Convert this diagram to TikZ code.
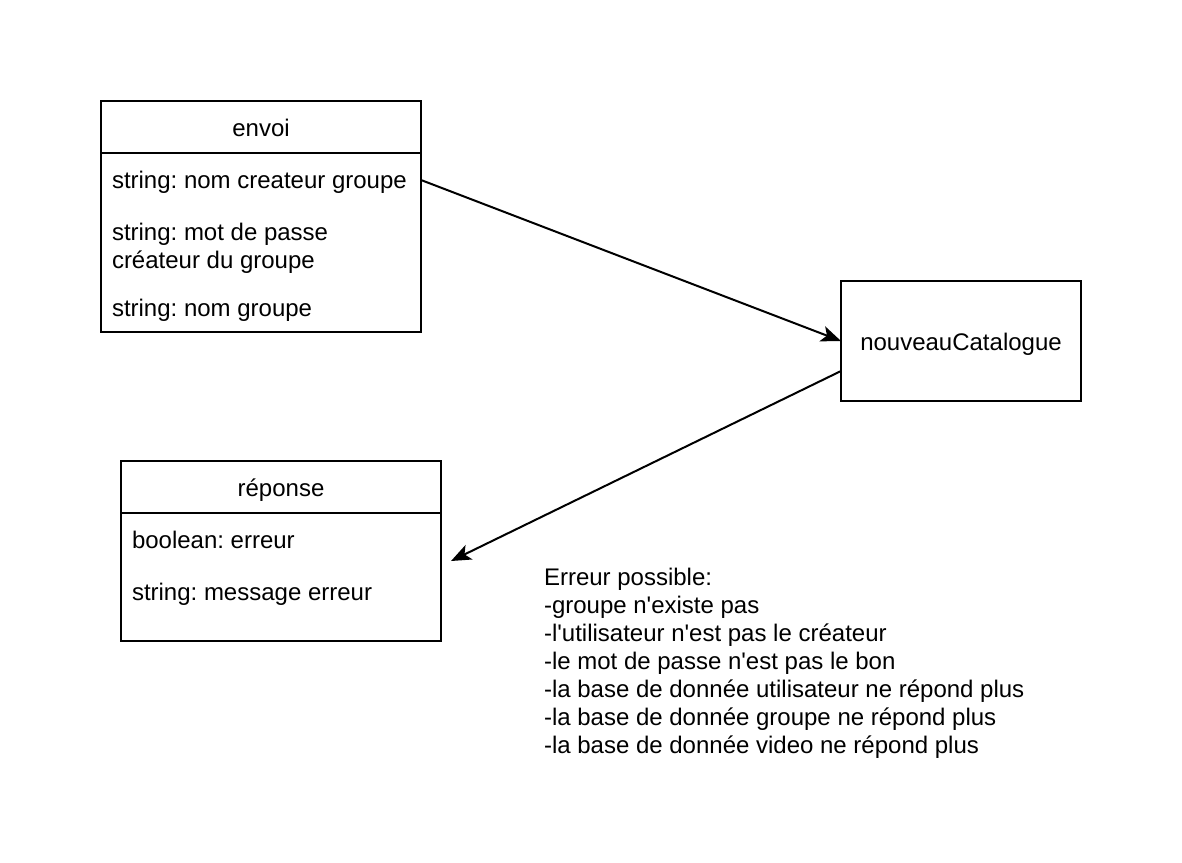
\documentclass[tikz,border=0pt]{standalone}
\usepackage{fontspec}
\setmainfont{Liberation Sans}
\usetikzlibrary{arrows.meta}
\frenchspacing
\newcommand{\sq}{\textquotesingle}
\begin{document}
\begin{tikzpicture}[x=1pt,y=-1pt,
  every node/.style={font=\fontsize{24}{28}\selectfont, inner sep=0pt, outer sep=0pt},
  box/.style={draw, line width=2pt, anchor=north west},
  txt/.style={anchor=base west},
  ttl/.style={anchor=base},
  conn/.style={line width=2pt, -{Stealth[length=20pt,width=16pt,inset=5pt]}}]
\useasboundingbox (0,0) rectangle (1182,862);
% envoi
\node[box, minimum width=320pt, minimum height=231pt] (envoi) at (101,101) {};
\draw[line width=2pt] (101,153) -- (421,153);
\node[ttl] (envoiT) at (261,136) {envoi};
\node[txt] (e1) at (112,188) {string: nom createur groupe};
\node[txt] (e2) at (112,240) {string: mot de passe};
\node[txt] (e2b) at (112,268) {créateur du groupe};
\node[txt] (e3) at (112,316) {string: nom groupe};
% nouveauCatalogue
\node[box, minimum width=240pt, minimum height=120pt] (nc) at (841,281) {};
\node[ttl] (ncT) at (961,350) {nouveauCatalogue};
% reponse
\node[box, minimum width=320pt, minimum height=180pt] (rep) at (121,461) {};
\draw[line width=2pt] (121,513) -- (441,513);
\node[ttl] (repT) at (281,496) {réponse};
\node[txt] (r1) at (132,548) {boolean: erreur};
\node[txt] (r2) at (132,600) {string: message erreur};
% error list
\node[anchor=north west, align=left] (err) at (544,568.5) {Erreur possible:\\-groupe n\sq{}existe pas\\-l\sq{}utilisateur n\sq{}est pas le créateur\\-le mot de passe n\sq{}est pas le bon\\-la base de donnée utilisateur ne répond plus\\-la base de donnée groupe ne répond plus\\-la base de donnée video ne répond plus};
% connectors
\coordinate (a1) at (envoi.north east |- 0,180);
\coordinate (a2) at (nc.west);
\coordinate (b1) at (841,371);
\coordinate (b2) at (451,561);
\draw[conn] (a1) -- (a2);
\draw[conn] (b1) -- (b2);
\end{tikzpicture}
\end{document}
